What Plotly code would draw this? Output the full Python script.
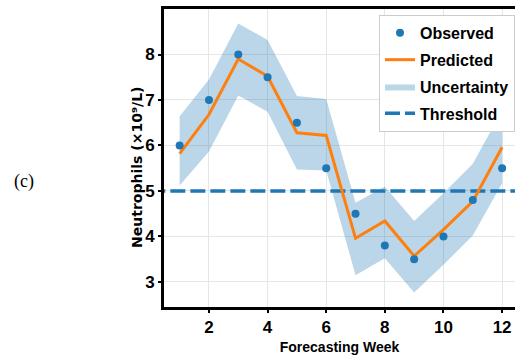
import plotly.graph_objects as go

weeks = [1, 2, 3, 4, 5, 6, 7, 8, 9, 10, 11, 12]
observed = [6.0, 7.0, 8.0, 7.5, 6.5, 5.5, 4.5, 3.8, 3.5, 4.0, 4.8, 5.5]
predicted = [5.82, 6.68, 7.90, 7.52, 6.28, 6.22, 3.96, 4.34, 3.57, 4.15, 4.77, 5.96]
upper = [6.64, 7.45, 8.68, 8.32, 7.09, 7.02, 4.74, 5.10, 4.34, 4.95, 5.60, 6.77]
lower = [5.12, 5.87, 7.10, 6.74, 5.47, 5.45, 3.15, 3.52, 2.77, 3.38, 4.02, 5.17]
threshold = 5.0
x_ticks = [2, 4, 6, 8, 10, 12]
y_ticks = [3, 4, 5, 6, 7, 8]

NARROW = "Liberation Sans, Arial, sans-serif"
BLUE = "#1f77b4"
ORANGE = "#ff7f0e"

fig = go.Figure()

fig.add_trace(go.Scatter(x=weeks, y=upper, mode="lines", line=dict(width=0),
                         showlegend=False, hoverinfo="skip", legendgroup="u"))
fig.add_trace(go.Scatter(x=weeks, y=lower, mode="lines", line=dict(width=0),
                         fill="tonexty", fillcolor="rgba(31,119,180,0.3)",
                         name="Uncertainty", legendrank=3, legendgroup="u"))
fig.add_trace(go.Scatter(x=[0.0, 13.0], y=[threshold, threshold], mode="lines",
                         line=dict(color=BLUE, width=3.5, dash="15px,5px"),
                         name="Threshold", legendrank=4, legendgroup="t"))
fig.add_trace(go.Scatter(x=weeks, y=predicted, mode="lines",
                         line=dict(color=ORANGE, width=3),
                         name="Predicted", legendrank=2, legendgroup="p"))
fig.add_trace(go.Scatter(x=weeks, y=observed, mode="markers",
                         marker=dict(color=BLUE, size=8),
                         name="Observed", legendrank=1, legendgroup="o"))

fig.add_annotation(text="(c)", x=-0.399, y=0.42, xref="paper", yref="paper",
                   xanchor="center", yanchor="middle", showarrow=False,
                   font=dict(family="Liberation Serif, Times New Roman, serif",
                             size=18, color="black"))

fig.add_annotation(text="Neutrophils (×10⁹/L)", textangle=-90,
                   x=-0.077, y=0.47, xref="paper", yref="paper",
                   xanchor="center", yanchor="middle", showarrow=False,
                   font=dict(family="DejaVu Sans", size=14, color="black", weight="bold"))

fig.update_layout(
    width=515, height=358,
    margin=dict(l=164, r=0, t=9, b=51),
    plot_bgcolor="white", paper_bgcolor="white",
    showlegend=True,
    legend=dict(x=1.0, y=0.98, xanchor="right", yanchor="top",
                bgcolor="white", bordercolor="#cccccc", borderwidth=1,
                font=dict(family=NARROW, size=16, color="black", weight="bold"),
                itemwidth=30, traceorder="grouped", tracegroupgap=3),
    xaxis=dict(range=[0.466, 12.44], tickmode="array", tickvals=x_ticks,
               showline=True, linecolor="black", linewidth=3, mirror=True,
               ticks="outside", ticklen=3, tickwidth=1.5, tickcolor="black",
               showgrid=True, gridcolor="#e6e6e6", gridwidth=1, zeroline=False,
               tickfont=dict(family=NARROW, size=17, color="black", weight="bold"),
               title=dict(text="Forecasting Week", standoff=6,
                          font=dict(family=NARROW, size=14, color="black", weight="bold"))),
    yaxis=dict(range=[2.45, 9.0], tickmode="array", tickvals=y_ticks,
               showline=True, linecolor="black", linewidth=3, mirror=False,
               ticks="outside", ticklen=3, tickwidth=1.5, tickcolor="black",
               showgrid=True, gridcolor="#e6e6e6", gridwidth=1, zeroline=False,
               tickfont=dict(family=NARROW, size=17, color="black", weight="bold")),
)

fig.write_html("out.html")
